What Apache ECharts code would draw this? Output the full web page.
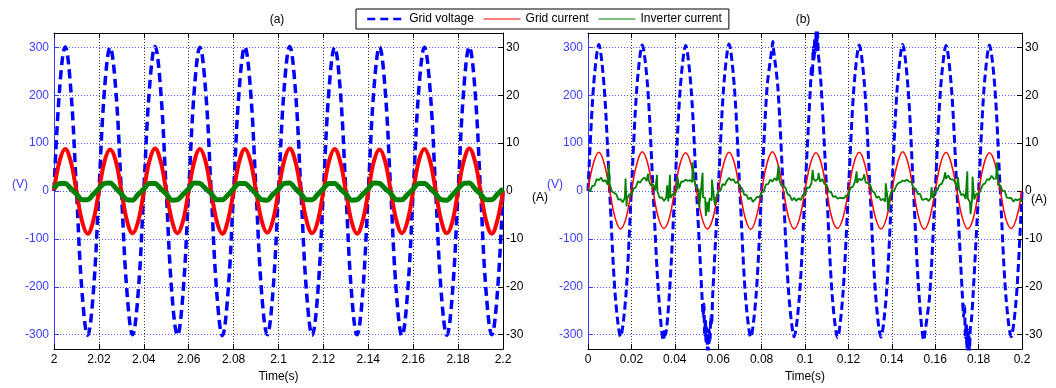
<!DOCTYPE html>
<html>
<head>
<meta charset="utf-8">
<script src="https://cdn.jsdelivr.net/npm/echarts@6/dist/echarts.min.js"></script>
<style>
  html, body { margin: 0; padding: 0; background: #fff; }
  #chart { width: 1056px; height: 388px; }
</style>
</head>
<body>
<div id="chart"></div>
<script>
// (a) steady state, 2 s .. 2.2 s, sampled every 2.5 ms
const timeA = [
  2, 2.0025, 2.005, 2.0075, 2.01, 2.0125, 2.015, 2.0175,
  2.02, 2.0225, 2.025, 2.0275, 2.03, 2.0325, 2.035, 2.0375,
  2.04, 2.0425, 2.045, 2.0475, 2.05, 2.0525, 2.055, 2.0575,
  2.06, 2.0625, 2.065, 2.0675, 2.07, 2.0725, 2.075, 2.0775,
  2.08, 2.0825, 2.085, 2.0875, 2.09, 2.0925, 2.095, 2.0975,
  2.1, 2.1025, 2.105, 2.1075, 2.11, 2.1125, 2.115, 2.1175,
  2.12, 2.1225, 2.125, 2.1275, 2.13, 2.1325, 2.135, 2.1375,
  2.14, 2.1425, 2.145, 2.1475, 2.15, 2.1525, 2.155, 2.1575,
  2.16, 2.1625, 2.165, 2.1675, 2.17, 2.1725, 2.175, 2.1775,
  2.18, 2.1825, 2.185, 2.1875, 2.19, 2.1925, 2.195, 2.1975,
  2.2
]
const voltageA = [
  0, 213, 301, 211, 1, -212, -301, -213,
  -1, 212, 300, 213, 0, -211, -300, -212,
  1, 213, 302, 212, -1, -213, -301, -211,
  0, 211, 300, 212, 1, -212, -302, -212,
  0, 212, 301, 213, 0, -213, -300, -211,
  -1, 213, 302, 212, 0, -212, -301, -212,
  1, 212, 300, 211, 0, -211, -300, -213,
  0, 213, 301, 212, -1, -212, -302, -212,
  0, 212, 300, 213, 1, -213, -301, -211,
  0, 211, 301, 212, 0, -212, -300, -212,
  0
]
const gridCurrentA = [
  0.1, 6.3, 8.8, 6.1, 0, -6.3, -8.9, -6.2,
  0, 6.2, 8.7, 6.3, 0.1, -6.2, -8.8, -6.3,
  -0.1, 6.3, 8.9, 6.2, 0, -6.1, -8.8, -6.2,
  0.1, 6.2, 8.8, 6.2, -0.1, -6.3, -8.9, -6.1,
  0, 6.1, 8.8, 6.3, 0, -6.2, -8.7, -6.2,
  0.1, 6.3, 8.9, 6.2, 0.1, -6.2, -8.8, -6.3,
  0, 6.2, 8.8, 6.1, 0, -6.3, -8.9, -6.2,
  -0.1, 6.2, 8.7, 6.2, 0, -6.1, -8.8, -6.2,
  0, 6.3, 8.8, 6.3, 0.1, -6.2, -8.8, -6.3,
  0.1, 6.2, 8.9, 6.2, 0, -6.2, -8.9, -6.1,
  0
]
const inverterCurrentA = [
  0.5, 1.6, 1.6, 0.5, -0.6, -1.8, -1.8, -0.7,
  0.5, 1.6, 1.7, 0.6, -0.6, -1.8, -1.9, -0.7,
  0.4, 1.6, 1.6, 0.5, -0.6, -1.9, -1.8, -0.7,
  0.5, 1.7, 1.6, 0.5, -0.5, -1.8, -1.8, -0.8,
  0.5, 1.6, 1.6, 0.6, -0.6, -1.8, -1.9, -0.7,
  0.4, 1.6, 1.7, 0.5, -0.6, -1.8, -1.8, -0.7,
  0.5, 1.6, 1.6, 0.5, -0.6, -1.9, -1.8, -0.7,
  0.5, 1.7, 1.6, 0.5, -0.5, -1.8, -1.8, -0.7,
  0.4, 1.6, 1.6, 0.6, -0.6, -1.8, -1.9, -0.8,
  0.5, 1.6, 1.7, 0.5, -0.6, -1.8, -1.8, -0.7,
  0.5
]

// (b) start-up, 0 .. 0.2 s
const timeB = [
  0, 0.0025, 0.005, 0.0075, 0.01, 0.0125, 0.015, 0.0175,
  0.02, 0.0225, 0.025, 0.0275, 0.03, 0.0325, 0.035, 0.0375,
  0.04, 0.0425, 0.045, 0.0475, 0.05, 0.0525, 0.055, 0.0575,
  0.06, 0.0625, 0.065, 0.0675, 0.07, 0.0725, 0.075, 0.0775,
  0.08, 0.0825, 0.085, 0.0875, 0.09, 0.0925, 0.095, 0.0975,
  0.1, 0.1025, 0.105, 0.1075, 0.11, 0.1125, 0.115, 0.1175,
  0.12, 0.1225, 0.125, 0.1275, 0.13, 0.1325, 0.135, 0.1375,
  0.14, 0.1425, 0.145, 0.1475, 0.15, 0.1525, 0.155, 0.1575,
  0.16, 0.1625, 0.165, 0.1675, 0.17, 0.1725, 0.175, 0.1775,
  0.18, 0.1825, 0.185, 0.1875, 0.19, 0.1925, 0.195, 0.1975,
  0.2
]
const voltageB = [
  0, 216, 306, 214, -2, -215, -304, -216,
  2, 215, 305, 217, 0, -214, -306, -215,
  -1, 214, 304, 215, 2, -216, -305, -214,
  0, 216, 307, 214, -1, -215, -305, -216,
  1, 215, 306, 216, 0, -214, -304, -215,
  -2, 217, 308, 215, 1, -216, -306, -214,
  0, 214, 305, 216, -1, -215, -305, -216,
  2, 216, 306, 214, 0, -214, -306, -215,
  -1, 215, 304, 215, 1, -216, -307, -214,
  0, 214, 305, 216, -2, -215, -304, -216,
  0
]
// disturbances on the grid voltage
const voltageBurstsB = [
  [0.0348, -312], [0.0352, -290], [0.0356, -301],
  [0.0531, -262], [0.0534, -236], [0.0538, -300], [0.0541, -268], [0.0544, -318],
  [0.0547, -285], [0.055, -335], [0.0553, -296], [0.0556, -335], [0.0559, -290],
  [0.0562, -312], [0.0566, -262], [0.0569, -280],
  [0.0852, 312], [0.0855, 296],
  [0.1031, 262], [0.1034, 240], [0.1038, 300], [0.1042, 275], [0.1045, 320],
  [0.1048, 290], [0.1051, 338], [0.1054, 300], [0.1057, 336], [0.1061, 288], [0.1065, 270],
  [0.1548, -312], [0.1553, -296],
  [0.1731, -262], [0.1735, -240], [0.1739, -305], [0.1743, -275], [0.1746, -330],
  [0.1749, -290], [0.1752, -338], [0.1755, -300], [0.1758, -336], [0.1762, -285], [0.1766, -275]
]
const gridCurrentB = [
  0.2, 5.8, 8.1, 5.7, 0, -5.6, -7.9, -5.7,
  0.1, 5.7, 8.2, 5.8, -0.1, -5.7, -7.8, -5.6,
  0.2, 5.8, 8.0, 5.6, 0.1, -5.6, -7.9, -5.8,
  0, 5.7, 8.1, 5.8, 0, -5.7, -8.0, -5.6,
  0.1, 5.8, 8.2, 5.7, 0.1, -5.6, -7.9, -5.7,
  0.2, 5.7, 8.0, 5.8, 0, -5.8, -7.8, -5.6,
  0, 5.8, 8.1, 5.7, -0.1, -5.6, -7.9, -5.7,
  0.1, 5.6, 8.2, 5.8, 0.1, -5.7, -8.0, -5.6,
  0.1, 5.8, 8.1, 5.6, 0, -5.6, -7.9, -5.8,
  0, 5.7, 8.0, 5.8, 0.1, -5.7, -7.8, -5.6,
  0.1
]
// inverter current (b) sampled every 1 ms, plus switching spikes
const timeFineB = [
  0, 0.001, 0.002, 0.003, 0.004, 0.005, 0.006, 0.007, 0.008, 0.009,
  0.01, 0.011, 0.012, 0.013, 0.014, 0.015, 0.016, 0.017, 0.018, 0.019,
  0.02, 0.021, 0.022, 0.023, 0.024, 0.025, 0.026, 0.027, 0.028, 0.029,
  0.03, 0.031, 0.032, 0.033, 0.034, 0.035, 0.036, 0.037, 0.038, 0.039,
  0.04, 0.041, 0.042, 0.043, 0.044, 0.045, 0.046, 0.047, 0.048, 0.049,
  0.05, 0.051, 0.052, 0.053, 0.054, 0.055, 0.056, 0.057, 0.058, 0.059,
  0.06, 0.061, 0.062, 0.063, 0.064, 0.065, 0.066, 0.067, 0.068, 0.069,
  0.07, 0.071, 0.072, 0.073, 0.074, 0.075, 0.076, 0.077, 0.078, 0.079,
  0.08, 0.081, 0.082, 0.083, 0.084, 0.085, 0.086, 0.087, 0.088, 0.089,
  0.09, 0.091, 0.092, 0.093, 0.094, 0.095, 0.096, 0.097, 0.098, 0.099,
  0.1, 0.101, 0.102, 0.103, 0.104, 0.105, 0.106, 0.107, 0.108, 0.109,
  0.11, 0.111, 0.112, 0.113, 0.114, 0.115, 0.116, 0.117, 0.118, 0.119,
  0.12, 0.121, 0.122, 0.123, 0.124, 0.125, 0.126, 0.127, 0.128, 0.129,
  0.13, 0.131, 0.132, 0.133, 0.134, 0.135, 0.136, 0.137, 0.138, 0.139,
  0.14, 0.141, 0.142, 0.143, 0.144, 0.145, 0.146, 0.147, 0.148, 0.149,
  0.15, 0.151, 0.152, 0.153, 0.154, 0.155, 0.156, 0.157, 0.158, 0.159,
  0.16, 0.161, 0.162, 0.163, 0.164, 0.165, 0.166, 0.167, 0.168, 0.169,
  0.17, 0.171, 0.172, 0.173, 0.174, 0.175, 0.176, 0.177, 0.178, 0.179,
  0.18, 0.181, 0.182, 0.183, 0.184, 0.185, 0.186, 0.187, 0.188, 0.189,
  0.19, 0.191, 0.192, 0.193, 0.194, 0.195, 0.196, 0.197, 0.198, 0.199,
  0.2
]
const inverterCurrentB = [
  0.3, 0.0, 1.1, 1.15, 2.5, 2.25, 2.8, 2.0, 2.3, 1.35,
  1.45, -0.05, -0.35, -0.65, -1.8, -1.7, -2.35, -1.4, -1.65, -0.7,
  -0.8, 0.5, 0.75, 2.05, 1.75, 2.45, 2.85, 2.1, 2.2, 1.15,
  1.4, 0.15, -0.1, -1.4, -1.3, -2.05, -1.45, -2.15, -1.45, -0.65,
  -0.7, 0.4, 0.55, 2.0, 1.95, 2.4, 2.1, 2.3, 1.85, 2.05,
  0.65, 0.35, -0.05, -1.3, -1.4, -2.25, -1.5, -1.95, -1.2, -1.4,
  -0.2, 0.05, 1.45, 1.25, 2.15, 2.75, 2.2, 2.5, 1.65, 2.0,
  0.85, 0.6, -0.8, -0.8, -1.75, -1.35, -2.25, -1.75, -1.15, -1.3,
  -0.3, -0.15, 1.4, 1.45, 2.4, 2.0, 2.7, 2.15, 2.55, 1.25,
  1.05, 0.65, -0.7, -0.9, -1.95, -1.4, -2.05, -1.5, -1.9, -0.8,
  -0.65, 0.75, 0.65, 1.65, 2.45, 2.1, 2.6, 1.95, 2.5, 1.45,
  1.3, -0.1, -0.2, -1.25, -1.05, -1.6, -1.4, -1.45, -1.5, -0.9,
  -0.85, 0.7, 0.85, 1.9, 1.7, 2.6, 2.25, 2.85, 1.75, 1.65,
  1.35, 0.0, -0.3, -1.45, -1.1, -1.95, -1.6, -2.2, -1.3, -1.25,
  0.05, -0.05, 1.05, 1.7, 1.8, 2.2, 2.05, 2.4, 1.95, 1.9,
  0.6, 0.5, -0.65, -0.55, -1.85, -1.75, -1.55, -2.1, -1.4, -1.45,
  0.0, 0.15, 1.3, 1.5, 2.6, 2.55, 3.25, 2.45, 2.45, 1.95,
  0.7, 0.4, -0.85, -0.6, -1.65, -1.5, -2.3, -1.6, -1.75, -0.55,
  -0.75, 0.35, 1.35, 1.6, 2.5, 2.35, 3.2, 2.55, 2.6, 1.2,
  1.2, 0.05, 0.05, -1.35, -1.45, -1.45, -2.2, -1.7, -1.95, -1.6,
  -2.2
]
const inverterSpikesB = [
  [0.0095, 5.6], [0.0173, 2.6], [0.0178, -3.2], [0.0277, 3.6], [0.0318, 3.4],
  [0.0365, 1.2], [0.0378, 3.4], [0.0412, 3.0], [0.0482, 6.0], [0.0513, -3.4],
  [0.0528, 3.8], [0.0543, -5.2], [0.0556, -4.4], [0.0571, 2.4], [0.0585, -3.0],
  [0.0878, 5.2], [0.1035, 4.4], [0.1062, 3.8], [0.1238, 4.1], [0.1272, 3.5],
  [0.1372, 1.6], [0.1383, -4.1], [0.1583, 0.8], [0.1646, 3.9], [0.1705, 2.9],
  [0.1748, 4.1], [0.1763, -4.8], [0.1772, 3.0], [0.1885, 6.0]
]

const FONT = 'Liberation Sans, Arial, sans-serif'
const BLUE = '#0000ff'
const AXIS_BLUE = '#3c3cff'

function pairs(ts, vs) {
  return ts.map((t, i) => [t, vs[i]])
}
function merged(base, extra) {
  return base.concat(extra).sort((a, b) => a[0] - b[0])
}

function xAxes(grid, min, max) {
  return [
    {
      gridIndex: grid, type: 'value', position: 'bottom', min: min, max: max, interval: 0.02,
      name: 'Time(s)', nameLocation: 'middle', nameGap: 19,
      nameTextStyle: { color: '#000', fontSize: 12, fontFamily: FONT },
      axisLine: { onZero: false, lineStyle: { color: '#000', width: 1 } },
      axisTick: { inside: true, length: 5, lineStyle: { color: '#000' } },
      axisLabel: { color: '#000', fontSize: 12, fontFamily: FONT, margin: 5 },
      splitLine: { show: true, lineStyle: { color: '#333', type: [1, 2], width: 1 } }
    },
    {
      gridIndex: grid, type: 'value', position: 'top', min: min, max: max, interval: 0.02,
      axisLine: { onZero: false, lineStyle: { color: '#000', width: 1 } },
      axisTick: { inside: true, length: 5, lineStyle: { color: '#000' } },
      axisLabel: { show: false },
      splitLine: { show: false }
    }
  ]
}

function yAxes(grid) {
  return [
    {
      gridIndex: grid, type: 'value', position: 'left', min: -330, max: 330, splitNumber: 6,
      axisLine: { show: true, onZero: false, lineStyle: { color: AXIS_BLUE, width: 1 } },
      axisTick: { show: true, inside: true, length: 5, lineStyle: { color: AXIS_BLUE } },
      axisLabel: { color: AXIS_BLUE, fontSize: 12, fontFamily: FONT, margin: 5, showMinLabel: false, showMaxLabel: false },
      splitLine: { show: true, showMinLine: false, showMaxLine: false, lineStyle: { color: '#5a5aff', type: [1, 2], width: 1 } }
    },
    {
      gridIndex: grid, type: 'value', position: 'right', min: -33, max: 33, splitNumber: 6,
      axisLine: { show: true, onZero: false, lineStyle: { color: '#000', width: 1 } },
      axisTick: { show: true, inside: true, length: 5, lineStyle: { color: '#000' } },
      axisLabel: { color: '#000', fontSize: 12, fontFamily: FONT, margin: 3, showMinLabel: false, showMaxLabel: false },
      splitLine: { show: false }
    }
  ]
}

function label(text, x, y, color) {
  return {
    type: 'text', x: x, y: y, z: 10,
    style: { text: text, fill: color, font: '12px ' + FONT, align: 'center', verticalAlign: 'middle' }
  }
}

// legend keys: plain lines, no marker
const hiddenMarker = { opacity: 0 }

const chart = echarts.init(document.getElementById('chart'), null, { renderer: 'canvas' })
chart.setOption({
  animation: false,
  backgroundColor: '#fff',
  grid: [
    { left: 54, top: 33, width: 449, height: 319 },
    { left: 588, top: 33, width: 434, height: 319 }
  ],
  xAxis: [...xAxes(0, 2, 2.2), ...xAxes(1, 0, 0.2)],
  yAxis: [...yAxes(0), ...yAxes(1)],
  legend: {
    left: 356, top: 9, orient: 'horizontal', selectedMode: false,
    padding: [4, 7, 4, 10], itemWidth: 37, itemHeight: 14, itemGap: 9,
    backgroundColor: '#fff', borderColor: '#000', borderWidth: 1, z: 20,
    textStyle: { color: '#000', fontSize: 12, fontFamily: FONT },
    data: [
      { name: 'Grid voltage', itemStyle: hiddenMarker, lineStyle: { width: 2.5, type: [8, 5] } },
      { name: 'Grid current', itemStyle: hiddenMarker, lineStyle: { width: 1.2 } },
      { name: 'Inverter current', itemStyle: hiddenMarker, lineStyle: { width: 1.2 } }
    ]
  },
  graphic: [
    label('(a)', 277, 20, '#000'),
    label('(b)', 803, 20, '#000'),
    label('(V)', 20, 185, AXIS_BLUE),
    label('(V)', 555, 185, AXIS_BLUE),
    label('(A)', 540, 198, '#000'),
    label('(A)', 1039, 200, '#000')
  ],
  series: [
    {
      name: 'Grid voltage', type: 'line', xAxisIndex: 0, yAxisIndex: 0,
      data: pairs(timeA, voltageA), smooth: 0.4, symbol: 'none',
      itemStyle: { color: BLUE }, lineStyle: { color: BLUE, width: 3.5, type: [9, 5] }
    },
    {
      name: 'Grid current', type: 'line', xAxisIndex: 0, yAxisIndex: 1,
      data: pairs(timeA, gridCurrentA), smooth: 0.4, symbol: 'none',
      itemStyle: { color: '#ff0000' }, lineStyle: { color: '#ff0000', width: 4 }
    },
    {
      name: 'Inverter current', type: 'line', xAxisIndex: 0, yAxisIndex: 1,
      data: pairs(timeA, inverterCurrentA), smooth: 0.3, symbol: 'none',
      itemStyle: { color: '#008000' }, lineStyle: { color: '#008000', width: 5 }
    },
    {
      name: 'Grid voltage', type: 'line', xAxisIndex: 2, yAxisIndex: 2,
      data: merged(pairs(timeB, voltageB), voltageBurstsB), smooth: 0.3, symbol: 'none',
      itemStyle: { color: BLUE }, lineStyle: { color: BLUE, width: 3, type: [8, 4] }
    },
    {
      name: 'Grid current', type: 'line', xAxisIndex: 2, yAxisIndex: 3,
      data: pairs(timeB, gridCurrentB), smooth: 0.4, symbol: 'none',
      itemStyle: { color: '#ff0000' }, lineStyle: { color: '#ff0000', width: 1.5 }
    },
    {
      name: 'Inverter current', type: 'line', xAxisIndex: 2, yAxisIndex: 3,
      data: merged(pairs(timeFineB, inverterCurrentB), inverterSpikesB), symbol: 'none',
      itemStyle: { color: '#008000' }, lineStyle: { color: '#008000', width: 1.8 }
    }
  ]
})
</script>
</body>
</html>
